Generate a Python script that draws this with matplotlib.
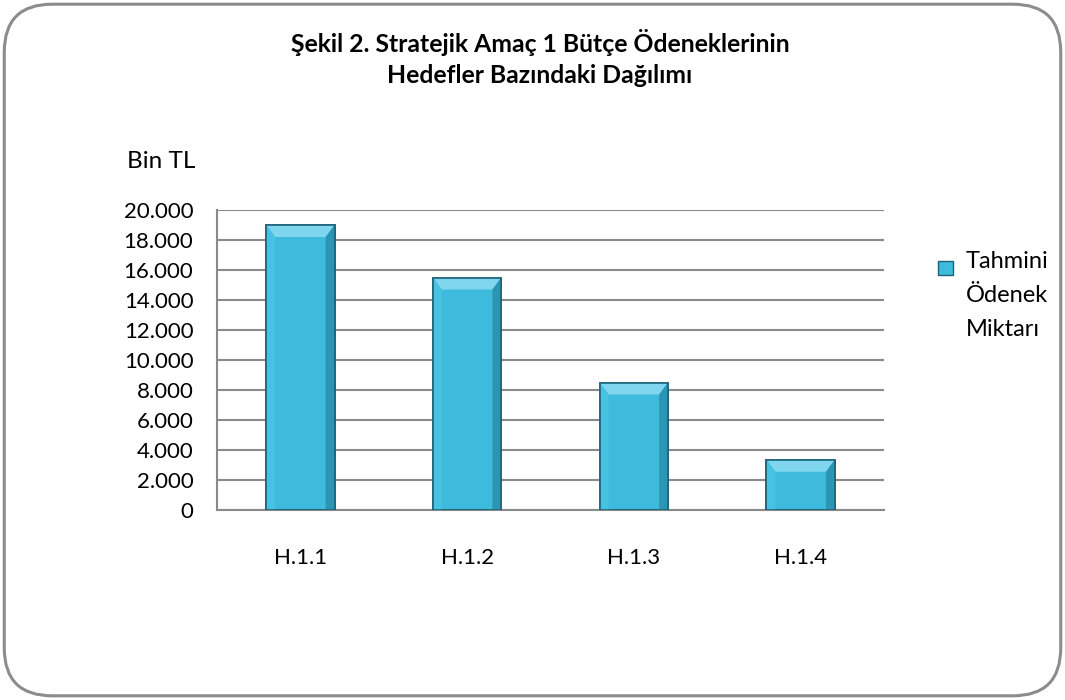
import matplotlib.pyplot as plt
from matplotlib.patches import FancyBboxPatch, Polygon, Rectangle

# data
categories = ["H.1.1", "H.1.2", "H.1.3", "H.1.4"]
odenek = [19000, 15500, 8500, 3350]
yticks = [0, 2000, 4000, 6000, 8000, 10000, 12000, 14000, 16000, 18000, 20000]
ytick_labels = ["0", "2.000", "4.000", "6.000", "8.000", "10.000", "12.000",
                "14.000", "16.000", "18.000", "20.000"]

plt.rcParams['font.family'] = ['Lato', 'DejaVu Sans']

fig = plt.figure(figsize=(10.65, 7), dpi=100)

# rounded outer frame
frame = FancyBboxPatch((0.004, 0.006), 0.992, 0.988,
                       boxstyle="round,pad=0,rounding_size=0.045",
                       transform=fig.transFigure, facecolor="white",
                       edgecolor="#8c8c8c", linewidth=2.2,
                       mutation_aspect=1065 / 700, zorder=-5)
fig.patches.append(frame)

ax = fig.add_axes([217 / 1065, 1 - 510 / 700, 667 / 1065, 300 / 700])
ax.set_facecolor("none")

x = range(len(categories))
bars = ax.bar(x, odenek, width=0.41, color="#3dbadc", edgecolor="#1d6479",
              linewidth=1.2, zorder=3)

# bevel effect on each bar
for b in bars:
    x0, w, h = b.get_x(), b.get_width(), b.get_height()
    bev_x = w * 0.13
    bev_y = 800
    top = Polygon([(x0, h), (x0 + w, h), (x0 + w - bev_x, h - bev_y),
                   (x0 + bev_x, h - bev_y)], closed=True,
                  facecolor="#7fd6ee", edgecolor="none", zorder=4)
    ax.add_patch(top)
    left = Polygon([(x0, h), (x0 + bev_x, h - bev_y), (x0 + bev_x, 0), (x0, 0)],
                   closed=True, facecolor="#46c2e3", edgecolor="none", zorder=4)
    ax.add_patch(left)
    right = Polygon([(x0 + w, h), (x0 + w - bev_x, h - bev_y),
                     (x0 + w - bev_x, 0), (x0 + w, 0)],
                    closed=True, facecolor="#2b95b3", edgecolor="none", zorder=4)
    ax.add_patch(right)
    ax.add_patch(Rectangle((x0, 0), w, h, facecolor="none",
                           edgecolor="#1d6479", linewidth=1.2, zorder=5))

ax.set_xlim(-0.5, len(categories) - 0.5)
ax.set_ylim(0, 20000)
ax.set_yticks(yticks)
ax.set_yticklabels(ytick_labels, fontsize=16)
ax.set_xticks(list(x))
ax.set_xticklabels(categories, fontsize=16)
ax.tick_params(axis="y", length=0, pad=17)
ax.tick_params(axis="x", length=0, pad=27)
ax.yaxis.grid(True, color="#8a8a8a", linewidth=1.5, zorder=0)
ax.set_axisbelow(True)
for s in ["right", "top"]:
    ax.spines[s].set_visible(False)
for s in ["left", "bottom"]:
    ax.spines[s].set_color("#8a8a8a")
    ax.spines[s].set_linewidth(1.5)

fig.text(540 / 1065, 1 - 58 / 700,
         "Şekil 2. Stratejik Amaç 1 Bütçe Ödeneklerinin\nHedefler Bazındaki Dağılımı",
         ha="center", va="center", fontsize=17.8, fontweight="bold",
         linespacing=1.45)
fig.text(127 / 1065, 1 - 162 / 700, "Bin TL", ha="left", va="center",
         fontsize=17.5)

# legend
fig.patches.append(Rectangle((938 / 1065, 1 - 275 / 700), 15 / 1065, 14 / 700,
                             transform=fig.transFigure, facecolor="#3dbadc",
                             edgecolor="#1d6479", linewidth=1))
fig.text(966 / 1065, 1 - 251 / 700, "Tahmini\nÖdenek\nMiktarı", ha="left",
         va="top", fontsize=17, linespacing=1.75)

fig.savefig("out.png", dpi=100)
